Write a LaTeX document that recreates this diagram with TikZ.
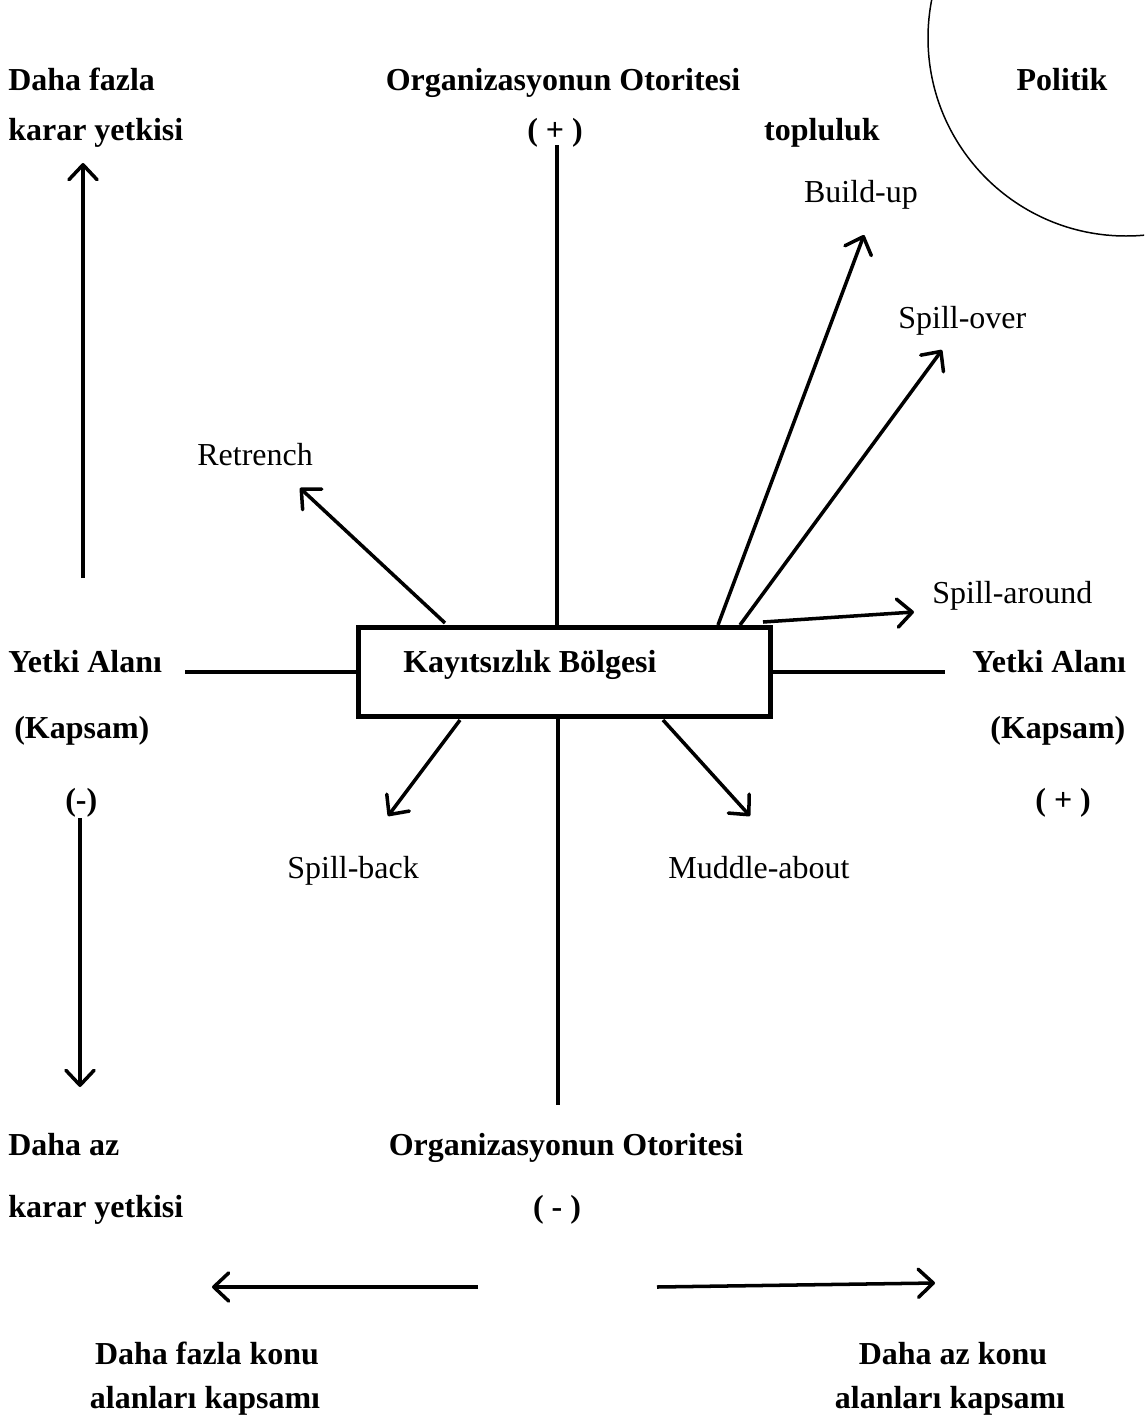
\documentclass[tikz,border=0pt]{standalone}
\usepackage{fontspec}
\setmainfont{Liberation Serif}
\usetikzlibrary{arrows.meta}
\tikzset{
  lbl/.style={font=\fontsize{18.2}{22}\selectfont\bfseries, inner sep=0pt},
  tag/.style={font=\fontsize{18.2}{22}\selectfont, inner sep=0pt},
  arr/.style={line width=2pt, -{Straight Barb[length=8.5pt,width=16pt,round]}},
  ln/.style={line width=1.9pt},
}

\begin{document}
\begin{tikzpicture}[x=0.02cm,y=-0.02cm]
    \useasboundingbox (0,0) rectangle (1144,1417);
    % zone in the middle
    \node[draw, line width=3pt, minimum width=8.24cm, minimum height=1.78cm, inner sep=0pt] (zone) at (564.5,672) {};
    \node[lbl, anchor=base west] (zonetxt) at (403,672) {Kayıtsızlık Bölgesi};
    % top labels
    \node[lbl, anchor=base west] (dfa) at (8,90) {Daha fazla};
    \node[lbl, anchor=base west] (dfb) at (8,140) {karar yetkisi};
    \node[lbl, anchor=base] (ota) at (563,90) {Organizasyonun Otoritesi};
    \node[lbl, anchor=base] (otb) at (555,140) {( + )};
    \node[lbl, anchor=base] (pol) at (1062,90) {Politik};
    \node[lbl, anchor=base] (top) at (822,140) {topluluk};
    % side labels
    \node[lbl, anchor=base west] (yla) at (8,672) {Yetki Alanı};
    \node[lbl, anchor=base west] (ylb) at (14,738) {(Kapsam)};
    \node[lbl, anchor=base west] (ylc) at (65,810) {(-)};
    \node[lbl, anchor=base west] (yra) at (972,672) {Yetki Alanı};
    \node[lbl, anchor=base west] (yrb) at (990,738) {(Kapsam)};
    \node[lbl, anchor=base west] (yrc) at (1035,810) {( + )};
    % bottom labels
    \node[lbl, anchor=base west] (daa) at (8,1155) {Daha az};
    \node[lbl, anchor=base west] (dab) at (8,1217) {karar yetkisi};
    \node[lbl, anchor=base] (oba) at (566,1155) {Organizasyonun Otoritesi};
    \node[lbl, anchor=base] (obb) at (557,1217) {( - )};
    \node[lbl, anchor=base] (kfa) at (207,1364) {Daha fazla konu};
    \node[lbl, anchor=base] (kfb) at (205,1408) {alanları kapsamı};
    \node[lbl, anchor=base] (kaa) at (953,1364) {Daha az konu};
    \node[lbl, anchor=base] (kab) at (950,1408) {alanları kapsamı};
    % arrow labels
    \node[tag, anchor=base] (bu) at (861,202) {Build-up};
    \node[tag, anchor=base west] (so) at (898,328) {Spill-over};
    \node[tag, anchor=base west] (rt) at (197,465) {Retrench};
    \node[tag, anchor=base west] (sa) at (932,603) {Spill-around};
    \node[tag, anchor=base west] (sb) at (287,878) {Spill-back};
    \node[tag, anchor=base west] (ma) at (668,878) {Muddle-about};
    % axes
    \coordinate (otop) at (557,145);
    \coordinate (obot) at (558,1105);
    \coordinate (yl) at (185,672);
    \coordinate (yr) at (945,672);
    \draw[ln] (otop) -- (otop |- zone.north);
    \draw[ln] (obot |- zone.south) -- (obot);
    \draw[ln] (yl) -- (zone.west);
    \draw[ln] (zone.east) -- (yr);
    % arrows out of the zone
    \coordinate (rt0) at (445,623);  \coordinate (rt1) at (300,488);
    \coordinate (bu0) at (718,625);  \coordinate (bu1) at (864,235);
    \coordinate (so0) at (740,625);  \coordinate (so1) at (942,350);
    \coordinate (sa0) at (763,622);  \coordinate (sa1) at (914,612);
    \coordinate (sb0) at (460,720);  \coordinate (sb1) at (388,816);
    \coordinate (ma0) at (663,720);  \coordinate (ma1) at (750,816);
    \draw[arr] (rt0) -- (rt1);
    \draw[arr] (bu0) -- (bu1);
    \draw[arr] (so0) -- (so1);
    \draw[arr] (sa0) -- (sa1);
    \draw[arr] (sb0) -- (sb1);
    \draw[arr] (ma0) -- (ma1);
    % outer arrows
    \coordinate (up0) at (83,578);   \coordinate (up1) at (83,163);
    \coordinate (dn0) at (80,818);   \coordinate (dn1) at (80,1087);
    \coordinate (lf0) at (478,1287); \coordinate (lf1) at (212,1287);
    \coordinate (rg0) at (657,1287); \coordinate (rg1) at (935,1283);
    \draw[arr] (up0) -- (up1);
    \draw[arr] (dn0) -- (dn1);
    \draw[arr] (lf0) -- (lf1);
    \draw[arr] (rg0) -- (rg1);
    % politik arc
    \begin{scope}
        \clip (0,0) rectangle (1144,1417);
        \draw[line width=0.85pt] (1126,38) circle [radius=198];
    \end{scope}
\end{tikzpicture}
\end{document}
